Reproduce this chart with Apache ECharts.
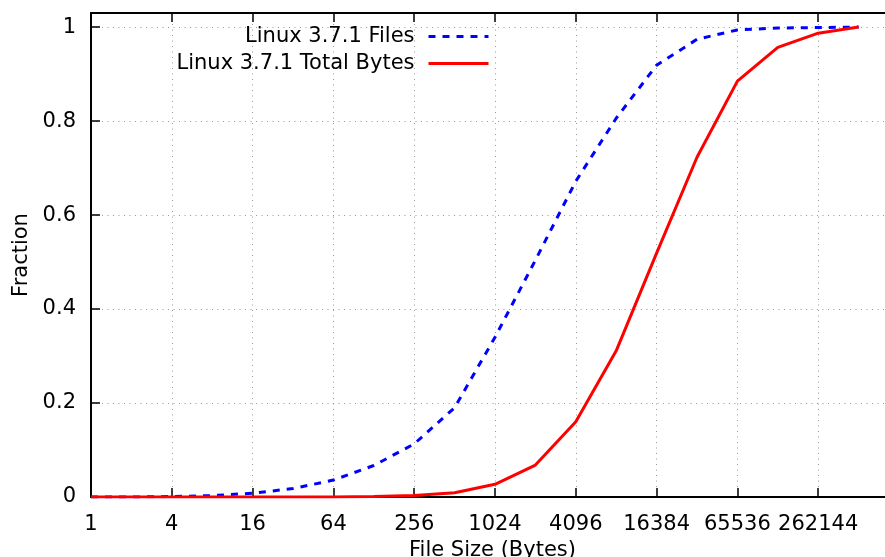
<!DOCTYPE html>
<html>
<head>
<meta charset="utf-8">
<script src="https://cdn.jsdelivr.net/npm/echarts@6/dist/echarts.min.js"></script>
<style>html,body{margin:0;padding:0;background:#fff}#c{width:885px;height:557px}</style>
</head>
<body>
<div id="c"></div>
<script>
// File sizes (bytes), powers of two
const fileSizes = [1,2,4,8,16,32,64,128,256,512,1024,2048,4096,8192,16384,32768,65536,131072,262144,524288];
// CDF of number of files
const filesFraction = [0,0,0.001,0.003,0.008,0.018,0.036,0.067,0.113,0.19,0.34,0.504,0.672,0.806,0.919,0.974,0.994,0.998,0.999,1.0];
// CDF of total bytes
const bytesFraction = [0,0,0,0,0,0,0,0.001,0.003,0.009,0.027,0.068,0.16,0.311,0.519,0.723,0.885,0.957,0.987,1.0];
const xTickLabels = ['1','4','16','64','256','1024','4096','16384','65536','262144'];
const yTickLabels = ['0','0.2','0.4','0.6','0.8','1'];
const seriesNames = ['Linux 3.7.1 Files','Linux 3.7.1 Total Bytes'];

const FONT = 'DejaVu Sans';
const FS = 21;
const chart = echarts.init(document.getElementById('c'), null, {renderer:'canvas'});
const pair = arr => fileSizes.map((x,i)=>[x, arr[i]]);
const gridLine = {show:true, lineStyle:{color:'#999', width:1, type:[1,4.5]}};
const xBase = {
  type:'log', logBase:2, min:1, max:1048576, interval:2, splitNumber:10,
  axisLine:{show:true, onZero:false, lineStyle:{color:'#000', width:2}},
  axisTick:{show:true, inside:true, length:9, lineStyle:{color:'#000', width:1.5}},
};
const legendCommon = {right:395, padding:0, align:'right', itemWidth:60, itemHeight:20,
  itemStyle:{opacity:0}, lineStyle:{width:3},
  textStyle:{fontFamily:FONT, fontSize:FS, color:'#000', padding:[0,9,0,0]}};
chart.setOption({
  animation:false,
  backgroundColor:'#fff',
  grid:{left:91, top:13, width:808, height:484, containLabel:false, outerBoundsMode:'none'},
  legend:[
    Object.assign({data:[seriesNames[0]], top:26}, legendCommon),
    Object.assign({data:[seriesNames[1]], top:53}, legendCommon)
  ],
  xAxis:[
    Object.assign({}, xBase, {
      position:'bottom',
      name:'File Size (Bytes)', nameLocation:'middle', nameGap:38,
      nameTextStyle:{fontFamily:FONT, fontSize:FS, color:'#000', padding:[0,5,0,0]},
      axisLabel:{show:true, margin:17, fontFamily:FONT, fontSize:FS, color:'#000',
        formatter:v=>{const s=String(Math.round(v)); return xTickLabels.indexOf(s)>=0?s:'';}},
      splitLine:gridLine
    }),
    Object.assign({}, xBase, {position:'top', axisLabel:{show:false}, splitLine:{show:false}})
  ],
  yAxis:[
    {type:'value', min:0, max:1.03, interval:0.2, position:'left',
     name:'Fraction', nameLocation:'middle', nameGap:58, nameRotate:90,
     nameTextStyle:{fontFamily:FONT, fontSize:FS, color:'#000'},
     axisLine:{show:true, onZero:false, lineStyle:{color:'#000', width:2}},
     axisTick:{show:true, inside:true, length:9, lineStyle:{color:'#000', width:1.5}},
     axisLabel:{margin:15, fontFamily:FONT, fontSize:FS, color:'#000', showMaxLabel:false,
       formatter:v=>{const s=String(Math.round(v*10)/10); return yTickLabels.indexOf(s)>=0?s:'';}},
     splitLine:gridLine},
    {type:'value', min:0, max:1.03, interval:0.2, position:'right',
     axisLine:{show:true, onZero:false, lineStyle:{color:'#000', width:2}},
     axisTick:{show:true, inside:true, length:9, lineStyle:{color:'#000', width:1.5}},
     axisLabel:{show:false}, splitLine:{show:false}}
  ],
  series:[
    {name:seriesNames[0], type:'line', data:pair(filesFraction), showSymbol:false, symbol:'none',
     color:'#0000ff', lineStyle:{color:'#0000ff', width:3, type:[7,7], cap:'butt'}, z:3},
    {name:seriesNames[1], type:'line', data:pair(bytesFraction), showSymbol:false, symbol:'none',
     color:'#ff0000', lineStyle:{color:'#ff0000', width:3, type:'solid'}, z:4}
  ]
});
</script>
</body>
</html>
